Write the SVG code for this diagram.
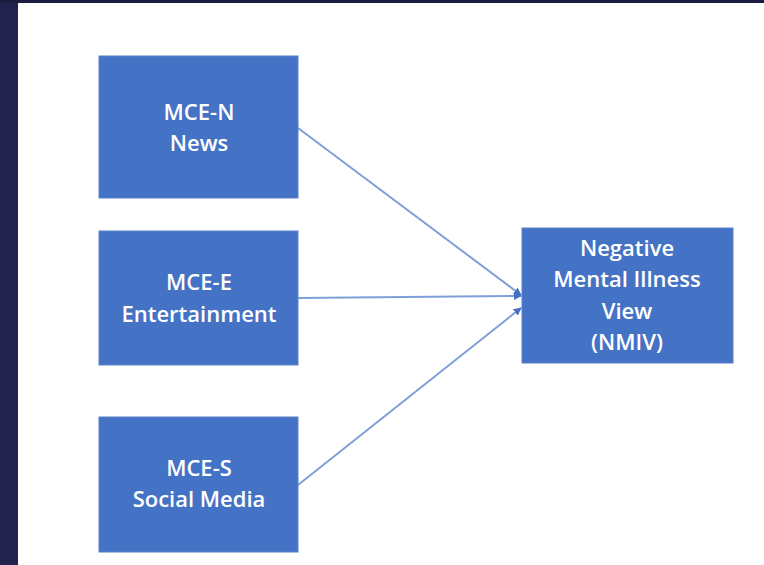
<svg xmlns="http://www.w3.org/2000/svg" width="764" height="565" viewBox="0 0 764 565">
<defs>
<style>
.box{fill:#4472c4;stroke:#5a82ca;stroke-width:1}
.lbl{fill:#ffffff;font-family:"Open Sans","Liberation Sans",sans-serif;font-size:22px;font-weight:600;text-anchor:middle}
.edge{stroke:#7f9fd9;stroke-width:2;fill:none}
</style>
<marker id="ah" viewBox="0 0 10 10" refX="9" refY="5" markerWidth="4" markerHeight="4" orient="auto" markerUnits="strokeWidth">
<path d="M0,0 L10,5 L0,10 z" fill="#4472c4"/>
</marker>
</defs>
<rect x="0" y="0" width="764" height="565" fill="#ffffff"/>
<rect x="0" y="0" width="18" height="565" fill="#22224f"/>
<rect x="0" y="0" width="764" height="3" fill="#1c1c40"/>
<g id="connectors">
<line class="edge" x1="298" y1="128" x2="521" y2="295" marker-end="url(#ah)"/>
<line class="edge" x1="298" y1="298" x2="521" y2="296" marker-end="url(#ah)"/>
<line class="edge" x1="298" y1="485" x2="521" y2="308" marker-end="url(#ah)"/>
</g>
<g id="mce-n">
<rect class="box" x="99" y="56" width="199" height="142"/>
<text class="lbl" x="199" y="120">MCE-N</text>
<text class="lbl" x="199" y="151">News</text>
</g>
<g id="mce-e">
<rect class="box" x="99" y="231" width="199" height="134"/>
<text class="lbl" x="199" y="290">MCE-E</text>
<text class="lbl" x="199" y="322">Entertainment</text>
</g>
<g id="mce-s">
<rect class="box" x="99" y="417" width="199" height="135"/>
<text class="lbl" x="199" y="476">MCE-S</text>
<text class="lbl" x="199" y="507">Social Media</text>
</g>
<g id="nmiv">
<rect class="box" x="522" y="228" width="211" height="135"/>
<text class="lbl" x="627" y="256">Negative</text>
<text class="lbl" x="627" y="287">Mental Illness</text>
<text class="lbl" x="627" y="319">View</text>
<text class="lbl" x="627" y="350">(NMIV)</text>
</g>
</svg>
